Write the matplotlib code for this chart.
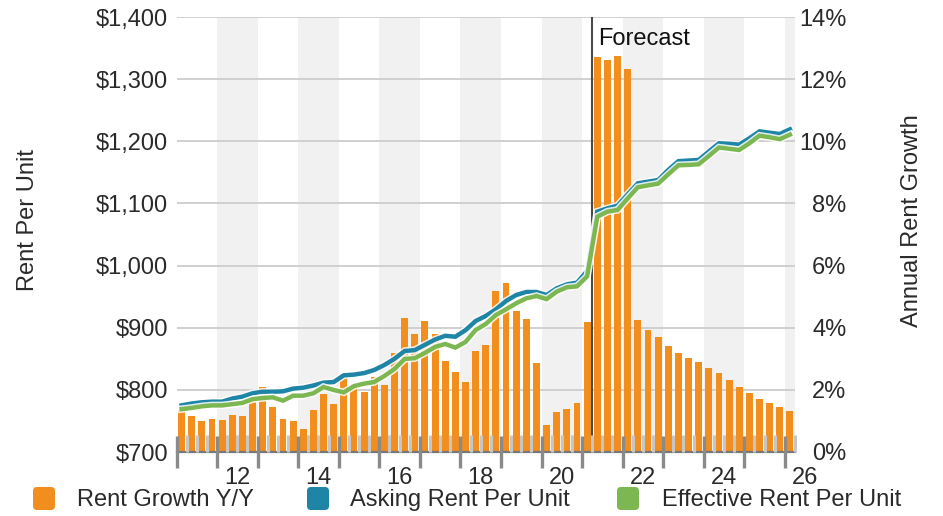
import matplotlib
matplotlib.use('Agg')
import matplotlib.pyplot as plt
import matplotlib.patheffects as pe
from matplotlib.patches import FancyBboxPatch
from matplotlib.transforms import blended_transform_factory, IdentityTransform
import numpy as np

plt.rcParams['font.family'] = ['Liberation Sans', 'DejaVu Sans']

# ---------------- data ----------------
start_year = 2011
growth = [1.35, 1.16, 1.00, 1.06, 1.03, 1.19, 1.16, 1.62, 2.09, 1.45,
          1.06, 1.00, 0.74, 1.35, 1.87, 1.54, 2.50, 2.09, 1.93, 2.41,
          2.16, 3.19, 4.31, 3.80, 4.22, 3.80, 2.93, 2.57, 2.25, 3.25,
          3.44, 5.18, 5.44, 4.54, 4.28, 2.86, 0.87, 1.29, 1.38, 1.58,
          4.18, 12.71, 12.62, 12.75, 12.33, 4.25, 3.93, 3.70, 3.41, 3.19,
          3.03, 2.90, 2.70, 2.54, 2.32, 2.09, 1.90, 1.70, 1.58, 1.45, 1.32]
asking = [775, 778, 780, 781, 781, 786, 789, 794.5, 797, 797, 797.6, 802,
          803.5, 807, 811.6, 812.6, 823.4, 824.5, 827, 832, 840, 850, 862.5, 864, 872.5,
          881, 887, 885.5, 896, 910.8, 918.9, 929.6, 943, 952.6, 957.5, 957.5, 952.6,
          963.4, 969.8, 972.5, 991.3, 1086.8, 1092, 1096.4, 1114.7, 1132.4, 1135, 1137.7, 1153.8,
          1168, 1169, 1170, 1183.5, 1196.8, 1196, 1194.6, 1204.8, 1216, 1213.8, 1211.7, 1219.3]
effective = [769, 771, 773.5, 775, 775, 777, 779, 785, 787, 788, 782.6, 790.6,
             790.6, 794.5, 804.6, 799.8, 796, 806, 810, 812.6, 822.3, 833.6, 849.7, 851, 859.5,
             869, 873.8, 868, 877, 896.3, 906, 920.5, 929.6, 939.3, 947.3, 951, 946,
             958, 965, 966.6, 982.7, 1078.7, 1086.8, 1089.5, 1108, 1126, 1129, 1131.8, 1146.8,
             1161.4, 1162, 1163, 1176.3, 1190, 1188, 1186, 1196.8, 1209, 1206.5, 1203.5, 1210.7]
label_years = [2012, 2014, 2016, 2018, 2020, 2022, 2024, 2026]
year_labels = ['12', '14', '16', '18', '20', '22', '24', '26']
left_ticks = [700, 800, 900, 1000, 1100, 1200, 1300, 1400]
right_ticks = [0, 2, 4, 6, 8, 10, 12, 14]
forecast_start = 2021.25
legend_labels = ['Rent Growth Y/Y', 'Asking Rent Per Unit', 'Effective Rent Per Unit']

# ---------------- styling ----------------
ORANGE = '#F28E1E'
BLUE = '#1F85A6'
GREEN = '#7DB752'
BAND = '#F1F1F1'
TXT = '#2a2a2a'
FS = 17

n = len(growth)
x = start_year + (np.arange(n) + 0.5) / 4.0
x_end = start_year + n / 4.0

W, H = 943, 516
fig = plt.figure(figsize=(W / 100, H / 100), dpi=100)
L, R, T, B = 176.5, 795, 17, 452
ax = fig.add_axes([L / W, 1 - B / H, (R - L) / W, (B - T) / H])
ax2 = ax.twinx()

ax.set_xlim(start_year, x_end)
ax.set_ylim(0, 14)
ax2.set_ylim(700, 1400)

# alternating year bands
for yr in range(start_year + 1, int(x_end) + 1, 2):
    ax.axvspan(yr, yr + 1, color=BAND, lw=0, zorder=0)

# gridlines
for t in right_ticks[1:]:
    ax.axhline(t, color='#cdcdcd', lw=1.3, zorder=1)

# bars
ax.bar(x, growth, width=0.17, color=ORANGE, zorder=2)

# forecast divider
ax.axvline(forecast_start, color='#4a4a4a', lw=1.5, zorder=3)
ax.annotate('Forecast', xy=(forecast_start, 1.0),
            xycoords=blended_transform_factory(ax.transData, ax.transAxes),
            xytext=(4.3, -16), textcoords='offset points',
            ha='left', va='center', fontsize=FS, color='#111111')

# lines
halo = [pe.Stroke(linewidth=5.4, foreground='white', alpha=0.85), pe.Normal()]
ax2.plot(x, asking, color=BLUE, lw=3.2, zorder=3, path_effects=halo,
         solid_joinstyle='miter')
ax2.plot(x, effective, color=GREEN, lw=3.2, zorder=4, path_effects=halo,
         solid_joinstyle='miter')

# spines
for s in ax.spines.values():
    s.set_visible(False)
for s in ax2.spines.values():
    s.set_visible(False)
ax.spines['bottom'].set_visible(True)
ax.spines['bottom'].set_color('#777777')
ax.spines['bottom'].set_linewidth(1.6)
ax.spines['bottom'].set_zorder(3)

# x ticks
ax.set_xticks(range(start_year, int(x_end) + 1))
minor = [start_year + k / 4.0 for k in range(1, n + 1) if k % 4]
ax.set_xticks(minor, minor=True)
ax.tick_params(axis='x', which='major', direction='inout', length=23,
               width=2.4, color='#8a8a8a', labelbottom=False)
ax.tick_params(axis='x', which='minor', direction='in', length=12.3,
               width=2.2, color='#c6c6c6', labelbottom=False)
ax.xaxis.set_zorder(4)
tr = blended_transform_factory(ax.transData, fig.transFigure)
for yr, lab in zip(label_years, year_labels):
    ax.text(yr + 0.5, 1 - 478 / H, lab, transform=tr, ha='center', va='center',
            fontsize=FS, color=TXT, clip_on=False)

# y axes: dollars on left, percent on right
ax.yaxis.tick_right()
ax.yaxis.set_label_position('right')
ax2.yaxis.tick_left()
ax2.yaxis.set_label_position('left')

ax2.set_yticks(left_ticks)
ax2.set_yticklabels(['${:,}'.format(v) for v in left_ticks])
ax2.tick_params(axis='y', length=0, pad=6, labelsize=FS, labelcolor=TXT)

ax.set_yticks(right_ticks)
ax.set_yticklabels(['{}%'.format(v) for v in right_ticks])
ax.tick_params(axis='y', length=0, pad=37, labelsize=FS, labelcolor=TXT,
               right=False, labelright=True, left=False, labelleft=False)
for tl in ax.get_yticklabels():
    tl.set_ha('right')

fig.text(28 / W, 1 - 220 / H, 'Rent Per Unit', rotation=90, ha='center', va='center',
         fontsize=FS, color=TXT)
fig.text(912 / W, 1 - 221 / H, 'Annual Rent Growth', rotation=90, ha='center', va='center',
         fontsize=FS, color=TXT)

# legend
leg_colors = [ORANGE, BLUE, GREEN]
box_x = [33, 307, 617]
text_x = [77, 350, 662]
for c, bx, tx, lab in zip(leg_colors, box_x, text_x, legend_labels):
    p = FancyBboxPatch((bx, H - 510), 22, 23, boxstyle='round,pad=0,rounding_size=4',
                       transform=IdentityTransform(), facecolor=c, edgecolor='none')
    fig.add_artist(p)
    fig.text(tx / W, 1 - 506 / H, lab, ha='left', va='baseline', fontsize=FS, color=TXT)

fig.savefig('out.png', dpi=100)
